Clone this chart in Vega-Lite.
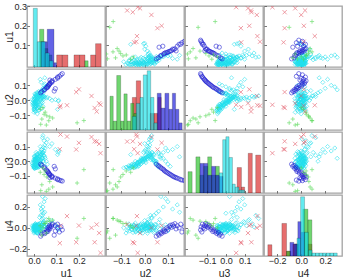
{
"$schema":"https://vega.github.io/schema/vega-lite/v6.json",
"background":"white",
"padding":{"left":3,"top":1,"right":0,"bottom":0},
"config":{
 "view":{"stroke":"#a3a3a3","strokeWidth":1.3},
 "axis":{"domain":false,"grid":false,"tickSize":-2.5,"tickColor":"#555555","tickWidth":0.8,"labelFont":"Liberation Sans","labelFontSize":9,"labelColor":"#262626","labelPadding":3,"titleFont":"Liberation Sans","titleFontSize":10.5,"titleFontWeight":"normal","titleColor":"#262626"}
},
"datasets":{
"pts":[
{"g":"c","u1":0.002,"u2":-0.055,"u3":-0.040,"u4":-0.020},
{"g":"c","u1":0.005,"u2":-0.048,"u3":-0.030,"u4":0.010},
{"g":"c","u1":0.000,"u2":-0.040,"u3":-0.035,"u4":-0.035},
{"g":"c","u1":0.008,"u2":-0.035,"u3":-0.020,"u4":0.005},
{"g":"c","u1":0.003,"u2":-0.030,"u3":-0.010,"u4":-0.015},
{"g":"c","u1":0.010,"u2":-0.025,"u3":-0.015,"u4":0.020},
{"g":"c","u1":0.006,"u2":-0.020,"u3":0.000,"u4":-0.040},
{"g":"c","u1":0.012,"u2":-0.015,"u3":0.005,"u4":0.000},
{"g":"c","u1":0.004,"u2":-0.010,"u3":0.010,"u4":-0.025},
{"g":"c","u1":0.015,"u2":-0.005,"u3":0.015,"u4":0.015},
{"g":"c","u1":0.008,"u2":0.000,"u3":0.020,"u4":-0.010},
{"g":"c","u1":0.018,"u2":0.005,"u3":0.025,"u4":0.030},
{"g":"c","u1":0.002,"u2":0.010,"u3":0.030,"u4":-0.005},
{"g":"c","u1":0.020,"u2":0.015,"u3":0.035,"u4":0.010},
{"g":"c","u1":0.011,"u2":0.020,"u3":0.040,"u4":-0.030},
{"g":"c","u1":0.025,"u2":0.025,"u3":0.030,"u4":0.005},
{"g":"c","u1":0.014,"u2":0.030,"u3":0.020,"u4":0.025},
{"g":"c","u1":0.030,"u2":0.035,"u3":0.010,"u4":-0.015},
{"g":"c","u1":0.007,"u2":0.040,"u3":0.000,"u4":0.000},
{"g":"c","u1":0.022,"u2":0.045,"u3":-0.010,"u4":0.035},
{"g":"c","u1":0.001,"u2":-0.060,"u3":-0.045,"u4":0.005},
{"g":"c","u1":0.016,"u2":-0.050,"u3":-0.025,"u4":-0.045},
{"g":"c","u1":0.009,"u2":-0.045,"u3":-0.045,"u4":0.025},
{"g":"c","u1":0.019,"u2":-0.038,"u3":-0.030,"u4":-0.010},
{"g":"c","u1":0.026,"u2":-0.028,"u3":-0.005,"u4":-0.020},
{"g":"c","u1":0.003,"u2":-0.018,"u3":-0.020,"u4":0.030},
{"g":"c","u1":0.013,"u2":-0.008,"u3":-0.005,"u4":-0.050},
{"g":"c","u1":0.028,"u2":0.002,"u3":0.000,"u4":0.015},
{"g":"c","u1":0.006,"u2":0.012,"u3":0.015,"u4":0.040},
{"g":"c","u1":0.017,"u2":0.022,"u3":0.050,"u4":-0.020},
{"g":"c","u1":0.033,"u2":0.028,"u3":0.045,"u4":0.000},
{"g":"c","u1":0.010,"u2":0.033,"u3":0.060,"u4":0.010},
{"g":"c","u1":0.024,"u2":-0.065,"u3":-0.035,"u4":-0.030},
{"g":"c","u1":0.035,"u2":-0.055,"u3":-0.020,"u4":0.020},
{"g":"c","u1":0.004,"u2":-0.070,"u3":-0.050,"u4":-0.005},
{"g":"c","u1":0.012,"u2":0.050,"u3":-0.020,"u4":-0.025},
{"g":"c","u1":0.029,"u2":0.055,"u3":-0.030,"u4":0.005},
{"g":"c","u1":0.038,"u2":-0.015,"u3":0.020,"u4":0.040},
{"g":"c","u1":-0.005,"u2":-0.025,"u3":-0.030,"u4":-0.010},
{"g":"c","u1":-0.008,"u2":0.005,"u3":-0.010,"u4":0.020},
{"g":"c","u1":0.000,"u2":-0.080,"u3":-0.040,"u4":-0.050},
{"g":"c","u1":0.015,"u2":-0.090,"u3":-0.045,"u4":0.000},
{"g":"c","u1":0.021,"u2":0.060,"u3":-0.040,"u4":-0.040},
{"g":"c","u1":0.032,"u2":0.010,"u3":0.065,"u4":-0.030},
{"g":"c","u1":0.040,"u2":-0.040,"u3":0.000,"u4":0.045},
{"g":"c","u1":0.001,"u2":-0.052,"u3":-0.038,"u4":0.012},
{"g":"c","u1":0.004,"u2":-0.043,"u3":-0.026,"u4":-0.022},
{"g":"c","u1":0.007,"u2":-0.033,"u3":-0.012,"u4":0.018},
{"g":"c","u1":0.002,"u2":-0.027,"u3":-0.022,"u4":-0.030},
{"g":"c","u1":0.009,"u2":-0.022,"u3":-0.006,"u4":0.008},
{"g":"c","u1":0.005,"u2":-0.012,"u3":0.004,"u4":-0.018},
{"g":"c","u1":0.011,"u2":-0.003,"u3":0.012,"u4":0.026},
{"g":"c","u1":0.003,"u2":0.004,"u3":0.018,"u4":-0.008},
{"g":"c","u1":0.013,"u2":0.008,"u3":0.027,"u4":0.002},
{"g":"c","u1":0.006,"u2":0.016,"u3":0.033,"u4":0.019},
{"g":"c","u1":0.016,"u2":0.024,"u3":0.042,"u4":-0.012},
{"g":"c","u1":0.009,"u2":0.029,"u3":0.025,"u4":0.032},
{"g":"c","u1":0.021,"u2":0.037,"u3":0.012,"u4":-0.026},
{"g":"c","u1":0.004,"u2":0.043,"u3":0.004,"u4":0.011},
{"g":"c","u1":0.018,"u2":0.051,"u3":-0.014,"u4":-0.004},
{"g":"c","u1":-0.003,"u2":-0.035,"u3":-0.028,"u4":0.004},
{"g":"c","u1":-0.006,"u2":-0.015,"u3":-0.017,"u4":-0.020},
{"g":"c","u1":-0.002,"u2":0.000,"u3":0.008,"u4":0.012},
{"g":"c","u1":0.014,"u2":-0.058,"u3":-0.032,"u4":-0.012},
{"g":"c","u1":0.023,"u2":-0.046,"u3":-0.018,"u4":0.030},
{"g":"c","u1":0.027,"u2":-0.033,"u3":-0.010,"u4":0.014},
{"g":"c","u1":0.031,"u2":-0.020,"u3":0.006,"u4":-0.034},
{"g":"c","u1":0.034,"u2":-0.006,"u3":0.022,"u4":0.022},
{"g":"c","u1":0.027,"u2":0.012,"u3":0.052,"u4":0.045},
{"g":"c","u1":0.037,"u2":0.020,"u3":0.058,"u4":0.005},
{"g":"c","u1":0.041,"u2":0.005,"u3":0.040,"u4":-0.015},
{"g":"c","u1":0.001,"u2":-0.065,"u3":-0.048,"u4":0.018},
{"g":"c","u1":0.008,"u2":-0.074,"u3":-0.042,"u4":-0.024},
{"g":"c","u1":0.019,"u2":-0.068,"u3":-0.030,"u4":0.038},
{"g":"c","u1":0.012,"u2":0.039,"u3":0.048,"u4":-0.045},
{"g":"c","u1":0.024,"u2":0.047,"u3":0.000,"u4":0.025},
{"g":"c","u1":0.002,"u2":0.022,"u3":0.036,"u4":0.003},
{"g":"c","u1":0.007,"u2":-0.006,"u3":0.000,"u4":0.036},
{"g":"c","u1":0.010,"u2":-0.038,"u3":-0.040,"u4":-0.040},
{"g":"c","u1":0.015,"u2":0.012,"u3":0.020,"u4":-0.052},
{"g":"c","u1":0.020,"u2":-0.012,"u3":0.015,"u4":0.000},
{"g":"c","u1":0.025,"u2":0.032,"u3":0.035,"u4":0.018},
{"g":"c","u1":0.000,"u2":-0.020,"u3":-0.005,"u4":0.022},
{"g":"c","u1":0.005,"u2":0.027,"u3":0.010,"u4":-0.018},
{"g":"c","u1":0.017,"u2":-0.028,"u3":-0.036,"u4":0.008},
{"g":"c","u1":0.035,"u2":0.015,"u3":0.080,"u4":0.030},
{"g":"c","u1":0.042,"u2":0.018,"u3":0.095,"u4":0.060},
{"g":"c","u1":0.048,"u2":0.022,"u3":0.110,"u4":0.020},
{"g":"c","u1":0.055,"u2":0.015,"u3":0.125,"u4":0.080},
{"g":"c","u1":0.045,"u2":0.028,"u3":0.140,"u4":0.040},
{"g":"c","u1":0.060,"u2":0.020,"u3":0.150,"u4":0.010},
{"g":"c","u1":0.070,"u2":0.012,"u3":0.100,"u4":0.050},
{"g":"c","u1":0.080,"u2":0.000,"u3":0.120,"u4":0.070},
{"g":"c","u1":0.095,"u2":0.005,"u3":0.080,"u4":0.030},
{"g":"c","u1":0.108,"u2":-0.005,"u3":0.060,"u4":-0.020},
{"g":"c","u1":0.110,"u2":0.000,"u3":0.070,"u4":0.000},
{"g":"c","u1":0.105,"u2":-0.060,"u3":0.045,"u4":0.010},
{"g":"c","u1":0.040,"u2":0.030,"u3":0.175,"u4":0.090},
{"g":"c","u1":0.038,"u2":0.025,"u3":0.160,"u4":0.120},
{"g":"c","u1":0.040,"u2":0.060,"u3":0.060,"u4":0.050},
{"g":"c","u1":0.045,"u2":0.070,"u3":0.040,"u4":0.020},
{"g":"c","u1":0.050,"u2":0.080,"u3":0.020,"u4":-0.010},
{"g":"c","u1":0.055,"u2":0.090,"u3":0.000,"u4":0.030},
{"g":"c","u1":0.060,"u2":0.100,"u3":-0.020,"u4":-0.030},
{"g":"c","u1":0.048,"u2":0.110,"u3":-0.035,"u4":0.010},
{"g":"c","u1":0.035,"u2":0.065,"u3":0.030,"u4":0.080},
{"g":"c","u1":0.030,"u2":0.040,"u3":0.040,"u4":0.120},
{"g":"c","u1":0.035,"u2":0.060,"u3":0.050,"u4":0.160},
{"g":"c","u1":0.040,"u2":0.080,"u3":0.060,"u4":0.200},
{"g":"c","u1":0.045,"u2":0.100,"u3":0.070,"u4":0.250},
{"g":"c","u1":0.032,"u2":0.120,"u3":0.080,"u4":0.180},
{"g":"c","u1":0.050,"u2":0.090,"u3":0.090,"u4":0.280},
{"g":"c","u1":0.028,"u2":0.140,"u3":0.100,"u4":0.220},
{"g":"c","u1":0.038,"u2":0.070,"u3":0.020,"u4":0.300},
{"g":"c","u1":0.042,"u2":0.050,"u3":0.000,"u4":0.140},
{"g":"c","u1":0.025,"u2":0.030,"u3":0.060,"u4":0.100},
{"g":"c","u1":0.048,"u2":0.150,"u3":0.030,"u4":0.150},
{"g":"b","u1":0.030,"u2":0.050,"u3":-0.020,"u4":-0.080},
{"g":"b","u1":0.035,"u2":0.058,"u3":-0.028,"u4":-0.060},
{"g":"b","u1":0.090,"u2":0.062,"u3":-0.035,"u4":-0.070},
{"g":"b","u1":0.045,"u2":0.068,"u3":-0.040,"u4":-0.045},
{"g":"b","u1":0.048,"u2":0.072,"u3":-0.048,"u4":-0.055},
{"g":"b","u1":0.095,"u2":0.078,"u3":-0.052,"u4":-0.030},
{"g":"b","u1":0.055,"u2":0.082,"u3":-0.058,"u4":-0.040},
{"g":"b","u1":0.058,"u2":0.085,"u3":-0.065,"u4":-0.020},
{"g":"b","u1":0.062,"u2":0.090,"u3":-0.070,"u4":-0.035},
{"g":"b","u1":0.062,"u2":0.095,"u3":-0.075,"u4":0.000},
{"g":"b","u1":0.065,"u2":0.100,"u3":-0.080,"u4":-0.015},
{"g":"b","u1":0.068,"u2":0.105,"u3":-0.085,"u4":0.010},
{"g":"b","u1":0.070,"u2":0.110,"u3":-0.090,"u4":0.025},
{"g":"b","u1":0.072,"u2":0.115,"u3":-0.095,"u4":0.005},
{"g":"b","u1":0.080,"u2":0.120,"u3":-0.100,"u4":0.030},
{"g":"b","u1":0.078,"u2":0.125,"u3":-0.105,"u4":0.015},
{"g":"b","u1":0.082,"u2":0.130,"u3":-0.108,"u4":0.040},
{"g":"b","u1":0.071,"u2":0.135,"u3":-0.112,"u4":-0.010},
{"g":"b","u1":0.095,"u2":0.140,"u3":-0.115,"u4":0.020},
{"g":"b","u1":0.105,"u2":0.148,"u3":-0.120,"u4":0.000},
{"g":"b","u1":0.105,"u2":0.155,"u3":-0.125,"u4":0.035},
{"g":"b","u1":0.113,"u2":0.160,"u3":-0.128,"u4":-0.040},
{"g":"b","u1":0.120,"u2":0.170,"u3":-0.132,"u4":0.010},
{"g":"b","u1":0.126,"u2":0.178,"u3":-0.135,"u4":-0.020},
{"g":"g","u1":0.222,"u2":-0.135,"u3":-0.057,"u4":0.090},
{"g":"g","u1":0.192,"u2":-0.150,"u3":-0.148,"u4":-0.100},
{"g":"g","u1":0.066,"u2":-0.136,"u3":-0.190,"u4":0.090},
{"g":"g","u1":0.083,"u2":-0.118,"u3":-0.175,"u4":0.074},
{"g":"g","u1":0.070,"u2":-0.110,"u3":-0.138,"u4":0.064},
{"g":"g","u1":0.057,"u2":-0.103,"u3":-0.107,"u4":0.060},
{"g":"g","u1":0.045,"u2":-0.093,"u3":-0.090,"u4":0.041},
{"g":"g","u1":0.050,"u2":-0.079,"u3":-0.066,"u4":0.041},
{"g":"g","u1":0.040,"u2":-0.049,"u3":-0.046,"u4":0.000},
{"g":"g","u1":0.030,"u2":-0.160,"u3":-0.200,"u4":-0.030},
{"g":"g","u1":0.035,"u2":-0.125,"u3":-0.160,"u4":-0.070},
{"g":"g","u1":0.028,"u2":-0.060,"u3":-0.075,"u4":0.020},
{"g":"g","u1":0.055,"u2":-0.165,"u3":-0.205,"u4":-0.050},
{"g":"r","u1":0.118,"u2":-0.036,"u3":0.182,"u4":0.020},
{"g":"r","u1":0.115,"u2":-0.045,"u3":0.082,"u4":-0.147},
{"g":"r","u1":0.147,"u2":-0.033,"u3":0.168,"u4":0.113},
{"g":"r","u1":0.188,"u2":0.055,"u3":0.080,"u4":-0.138},
{"g":"r","u1":0.200,"u2":0.073,"u3":0.125,"u4":0.022},
{"g":"r","u1":0.256,"u2":0.029,"u3":0.165,"u4":0.000},
{"g":"r","u1":0.270,"u2":-0.051,"u3":0.136,"u4":-0.138},
{"g":"r","u1":0.279,"u2":-0.075,"u3":0.134,"u4":0.032},
{"g":"r","u1":0.296,"u2":-0.030,"u3":0.055,"u4":-0.240},
{"g":"r","u1":0.290,"u2":-0.020,"u3":0.118,"u4":-0.050}
],
"hist":[
{"v":"u1","g":"r","x0":0.101,"x1":0.126,"h":0.05},
{"v":"u1","g":"r","x0":0.126,"x1":0.151,"h":0.05},
{"v":"u1","g":"r","x0":0.178,"x1":0.203,"h":0.05},
{"v":"u1","g":"r","x0":0.203,"x1":0.227,"h":0.05},
{"v":"u1","g":"r","x0":0.252,"x1":0.274,"h":0.05},
{"v":"u1","g":"r","x0":0.274,"x1":0.299,"h":0.108},
{"v":"u1","g":"g","x0":0.025,"x1":0.044,"h":0.182},
{"v":"u1","g":"g","x0":0.044,"x1":0.062,"h":0.083},
{"v":"u1","g":"g","x0":0.062,"x1":0.08,"h":0.05},
{"v":"u1","g":"g","x0":0.226,"x1":0.241,"h":0.02},
{"v":"u1","g":"b","x0":0.032,"x1":0.059,"h":0.118},
{"v":"u1","g":"b","x0":0.059,"x1":0.089,"h":0.182},
{"v":"u1","g":"b","x0":0.089,"x1":0.1,"h":0.01},
{"v":"u1","g":"c","x0":-0.003,"x1":0.015,"h":0.29},
{"v":"u1","g":"c","x0":0.015,"x1":0.032,"h":0.118},
{"v":"u1","g":"c","x0":0.032,"x1":0.05,"h":0.118},
{"v":"u1","g":"c","x0":0.05,"x1":0.068,"h":0.06},
{"v":"u1","g":"c","x0":0.068,"x1":0.085,"h":0.02},
{"v":"u2","g":"r","x0":-0.053,"x1":-0.036,"h":0.55},
{"v":"u2","g":"r","x0":-0.036,"x1":-0.017,"h":0.83},
{"v":"u2","g":"r","x0":0.023,"x1":0.04,"h":0.28},
{"v":"u2","g":"r","x0":0.04,"x1":0.057,"h":0.28},
{"v":"u2","g":"r","x0":0.057,"x1":0.071,"h":0.55},
{"v":"u2","g":"g","x0":-0.149,"x1":-0.135,"h":0.57},
{"v":"u2","g":"g","x0":-0.135,"x1":-0.12,"h":0.15},
{"v":"u2","g":"g","x0":-0.12,"x1":-0.103,"h":0.92},
{"v":"u2","g":"g","x0":-0.103,"x1":-0.089,"h":0.15},
{"v":"u2","g":"g","x0":-0.089,"x1":-0.075,"h":0.61},
{"v":"u2","g":"g","x0":-0.075,"x1":-0.06,"h":0.15},
{"v":"u2","g":"g","x0":-0.06,"x1":-0.046,"h":0.45},
{"v":"u2","g":"g","x0":-0.046,"x1":-0.034,"h":0.28},
{"v":"u2","g":"b","x0":0.054,"x1":0.071,"h":0.62},
{"v":"u2","g":"b","x0":0.071,"x1":0.087,"h":0.37},
{"v":"u2","g":"b","x0":0.087,"x1":0.104,"h":0.62},
{"v":"u2","g":"b","x0":0.104,"x1":0.119,"h":0.35},
{"v":"u2","g":"b","x0":0.119,"x1":0.133,"h":0.62},
{"v":"u2","g":"b","x0":0.133,"x1":0.147,"h":0.35},
{"v":"u2","g":"b","x0":0.147,"x1":0.161,"h":0.12},
{"v":"u2","g":"c","x0":-0.053,"x1":-0.036,"h":0.23},
{"v":"u2","g":"c","x0":-0.036,"x1":-0.02,"h":0.45},
{"v":"u2","g":"c","x0":-0.02,"x1":-0.006,"h":0.55},
{"v":"u2","g":"c","x0":-0.006,"x1":0.011,"h":0.93},
{"v":"u2","g":"c","x0":0.011,"x1":0.026,"h":1.0},
{"v":"u2","g":"c","x0":0.026,"x1":0.04,"h":0.55},
{"v":"u2","g":"c","x0":0.04,"x1":0.054,"h":0.12},
{"v":"u3","g":"r","x0":0.06,"x1":0.083,"h":0.43},
{"v":"u3","g":"r","x0":0.083,"x1":0.1,"h":0.1},
{"v":"u3","g":"r","x0":0.119,"x1":0.141,"h":0.67},
{"v":"u3","g":"r","x0":0.159,"x1":0.186,"h":0.64},
{"v":"u3","g":"g","x0":-0.202,"x1":-0.18,"h":0.36},
{"v":"u3","g":"g","x0":-0.16,"x1":-0.138,"h":0.61},
{"v":"u3","g":"g","x0":-0.138,"x1":-0.118,"h":0.3},
{"v":"u3","g":"g","x0":-0.118,"x1":-0.097,"h":0.45},
{"v":"u3","g":"g","x0":-0.097,"x1":-0.076,"h":0.61},
{"v":"u3","g":"g","x0":-0.076,"x1":-0.055,"h":0.3},
{"v":"u3","g":"g","x0":-0.055,"x1":-0.035,"h":0.45},
{"v":"u3","g":"b","x0":-0.138,"x1":-0.118,"h":0.5},
{"v":"u3","g":"b","x0":-0.118,"x1":-0.097,"h":0.5},
{"v":"u3","g":"b","x0":-0.097,"x1":-0.076,"h":0.3},
{"v":"u3","g":"b","x0":-0.076,"x1":-0.055,"h":0.45},
{"v":"u3","g":"b","x0":-0.055,"x1":-0.035,"h":0.3},
{"v":"u3","g":"b","x0":-0.035,"x1":-0.015,"h":0.28},
{"v":"u3","g":"c","x0":-0.035,"x1":-0.017,"h":0.34},
{"v":"u3","g":"c","x0":-0.017,"x1":0.0,"h":0.9},
{"v":"u3","g":"c","x0":0.0,"x1":0.017,"h":0.95},
{"v":"u3","g":"c","x0":0.017,"x1":0.035,"h":0.6},
{"v":"u3","g":"c","x0":0.035,"x1":0.05,"h":0.15},
{"v":"u3","g":"c","x0":0.05,"x1":0.07,"h":0.1},
{"v":"u3","g":"c","x0":0.07,"x1":0.1,"h":0.05},
{"v":"u4","g":"r","x0":-0.278,"x1":-0.244,"h":0.19},
{"v":"u4","g":"r","x0":-0.161,"x1":-0.122,"h":0.55},
{"v":"u4","g":"r","x0":-0.122,"x1":-0.088,"h":0.08},
{"v":"u4","g":"r","x0":-0.07,"x1":-0.035,"h":0.2},
{"v":"u4","g":"r","x0":0.056,"x1":0.089,"h":0.2},
{"v":"u4","g":"g","x0":-0.122,"x1":-0.088,"h":0.08},
{"v":"u4","g":"g","x0":-0.05,"x1":-0.02,"h":0.2},
{"v":"u4","g":"g","x0":0.014,"x1":0.056,"h":0.79},
{"v":"u4","g":"g","x0":0.056,"x1":0.089,"h":0.61},
{"v":"u4","g":"b","x0":-0.094,"x1":-0.061,"h":0.23},
{"v":"u4","g":"b","x0":-0.061,"x1":-0.028,"h":0.2},
{"v":"u4","g":"b","x0":-0.028,"x1":0.0,"h":0.58},
{"v":"u4","g":"b","x0":0.0,"x1":0.028,"h":0.4},
{"v":"u4","g":"c","x0":-0.035,"x1":-0.005,"h":0.3},
{"v":"u4","g":"c","x0":-0.005,"x1":0.028,"h":1.0},
{"v":"u4","g":"c","x0":0.028,"x1":0.06,"h":0.4},
{"v":"u4","g":"c","x0":0.06,"x1":0.09,"h":0.1},
{"v":"u4","g":"c","x0":0.09,"x1":0.12,"h":0.05},
{"v":"u4","g":"c","x0":0.12,"x1":0.15,"h":0.05},
{"v":"u4","g":"c","x0":0.15,"x1":0.18,"h":0.05},
{"v":"u4","g":"c","x0":0.18,"x1":0.21,"h":0.05},
{"v":"u4","g":"c","x0":0.21,"x1":0.24,"h":0.05},
{"v":"u4","g":"c","x0":0.24,"x1":0.27,"h":0.05},
{"v":"u4","g":"c","x0":0.27,"x1":0.3,"h":0.05}
]
},
"columns":4,
"spacing":{"row":2,"column":1},
"bounds":"flush",
"concat":[
 {"width":78,"height":61,"data":{"name":"hist"},"transform":[{"filter":"datum.v=='u1'"}],
  "mark":{"type":"bar","fillOpacity":0.65,"stroke":"#000000","strokeOpacity":0.4,"strokeWidth":0.5,"clip":true},
  "encoding":{"x":{"field":"x0","type":"quantitative","scale":{"domain":[-0.031,0.316],"nice":false,"zero":false},"axis":{"values":[0,0.1,0.2],"labels":false,"title":null}},"x2":{"field":"x1"},
   "y":{"field":"h","type":"quantitative","scale":{"domain":[-0.012,0.302],"nice":false,"zero":false},"axis":{"values":[0.1,0.2,0.3],"title":"u1","titleX":-18,"titleBaseline":"middle"}},"y2":{"datum":-0.012},
   "fill":{"field":"g","type":"nominal","scale":{"domain":["r","g","b","c"],"range":["#d92020","#22c022","#1010d8","#10e0e8"]},"legend":null}}},
 {"width":78,"height":61,"data":{"name":"pts"},"mark":{"type":"point","filled":false,"clip":true,"size":18,"strokeWidth":0.8},
  "encoding":{"x":{"field":"u2","type":"quantitative","scale":{"domain":[-0.166,0.169],"nice":false,"zero":false},"axis":{"values":[-0.1,0,0.1],"labels":false,"title":null}},
   "y":{"field":"u1","type":"quantitative","scale":{"domain":[-0.012,0.302],"nice":false,"zero":false},"axis":{"values":[0.1,0.2,0.3],"labels":false,"title":null}},
   "color":{"field":"g","type":"nominal","scale":{"domain":["r","g","b","c"],"range":["#e25060","#4fd84f","#1a1ad0","#20e0ee"]},"legend":null},
   "shape":{"field":"g","type":"nominal","scale":{"domain":["r","g","b","c"],"range":["M-1,-1L1,1M-1,1L1,-1","M-1,0L1,0M0,-1L0,1","circle","diamond"]},"legend":null}}},
 {"width":78,"height":61,"data":{"name":"pts"},"mark":{"type":"point","filled":false,"clip":true,"size":18,"strokeWidth":0.8},
  "encoding":{"x":{"field":"u3","type":"quantitative","scale":{"domain":[-0.218,0.198],"nice":false,"zero":false},"axis":{"values":[-0.1,0,0.1],"labels":false,"title":null}},
   "y":{"field":"u1","type":"quantitative","scale":{"domain":[-0.012,0.302],"nice":false,"zero":false},"axis":{"values":[0.1,0.2,0.3],"labels":false,"title":null}},
   "color":{"field":"g","type":"nominal","scale":{"domain":["r","g","b","c"],"range":["#e25060","#4fd84f","#1a1ad0","#20e0ee"]},"legend":null},
   "shape":{"field":"g","type":"nominal","scale":{"domain":["r","g","b","c"],"range":["M-1,-1L1,1M-1,1L1,-1","M-1,0L1,0M0,-1L0,1","circle","diamond"]},"legend":null}}},
 {"width":78,"height":61,"data":{"name":"pts"},"mark":{"type":"point","filled":false,"clip":true,"size":18,"strokeWidth":0.8},
  "encoding":{"x":{"field":"u4","type":"quantitative","scale":{"domain":[-0.31,0.34],"nice":false,"zero":false},"axis":{"values":[-0.2,0,0.2],"labels":false,"title":null}},
   "y":{"field":"u1","type":"quantitative","scale":{"domain":[-0.012,0.302],"nice":false,"zero":false},"axis":{"values":[0.1,0.2,0.3],"labels":false,"title":null}},
   "color":{"field":"g","type":"nominal","scale":{"domain":["r","g","b","c"],"range":["#e25060","#4fd84f","#1a1ad0","#20e0ee"]},"legend":null},
   "shape":{"field":"g","type":"nominal","scale":{"domain":["r","g","b","c"],"range":["M-1,-1L1,1M-1,1L1,-1","M-1,0L1,0M0,-1L0,1","circle","diamond"]},"legend":null}}},
 {"width":78,"height":61,"data":{"name":"pts"},"mark":{"type":"point","filled":false,"clip":true,"size":18,"strokeWidth":0.8},
  "encoding":{"x":{"field":"u1","type":"quantitative","scale":{"domain":[-0.031,0.316],"nice":false,"zero":false},"axis":{"values":[0,0.1,0.2],"labels":false,"title":null}},
   "y":{"field":"u2","type":"quantitative","scale":{"domain":[-0.198,0.209],"nice":false,"zero":false},"axis":{"values":[-0.1,0,0.1],"title":"u2","titleX":-18,"titleBaseline":"middle"}},
   "color":{"field":"g","type":"nominal","scale":{"domain":["r","g","b","c"],"range":["#e25060","#4fd84f","#1a1ad0","#20e0ee"]},"legend":null},
   "shape":{"field":"g","type":"nominal","scale":{"domain":["r","g","b","c"],"range":["M-1,-1L1,1M-1,1L1,-1","M-1,0L1,0M0,-1L0,1","circle","diamond"]},"legend":null}}},
 {"width":78,"height":61,"data":{"name":"hist"},"transform":[{"filter":"datum.v=='u2'"}],
  "mark":{"type":"bar","fillOpacity":0.65,"stroke":"#000000","strokeOpacity":0.4,"strokeWidth":0.5,"clip":true},
  "encoding":{"x":{"field":"x0","type":"quantitative","scale":{"domain":[-0.166,0.169],"nice":false,"zero":false},"axis":{"values":[-0.1,0,0.1],"labels":false,"title":null}},"x2":{"field":"x1"},
   "y":{"field":"h","type":"quantitative","scale":{"domain":[0,1.03],"nice":false},"axis":null},"y2":{"datum":0},
   "fill":{"field":"g","type":"nominal","scale":{"domain":["r","g","b","c"],"range":["#d92020","#22c022","#1010d8","#10e0e8"]},"legend":null}}},
 {"width":78,"height":61,"data":{"name":"pts"},"mark":{"type":"point","filled":false,"clip":true,"size":18,"strokeWidth":0.8},
  "encoding":{"x":{"field":"u3","type":"quantitative","scale":{"domain":[-0.218,0.198],"nice":false,"zero":false},"axis":{"values":[-0.1,0,0.1],"labels":false,"title":null}},
   "y":{"field":"u2","type":"quantitative","scale":{"domain":[-0.198,0.209],"nice":false,"zero":false},"axis":{"values":[-0.1,0,0.1],"labels":false,"title":null}},
   "color":{"field":"g","type":"nominal","scale":{"domain":["r","g","b","c"],"range":["#e25060","#4fd84f","#1a1ad0","#20e0ee"]},"legend":null},
   "shape":{"field":"g","type":"nominal","scale":{"domain":["r","g","b","c"],"range":["M-1,-1L1,1M-1,1L1,-1","M-1,0L1,0M0,-1L0,1","circle","diamond"]},"legend":null}}},
 {"width":78,"height":61,"data":{"name":"pts"},"mark":{"type":"point","filled":false,"clip":true,"size":18,"strokeWidth":0.8},
  "encoding":{"x":{"field":"u4","type":"quantitative","scale":{"domain":[-0.31,0.34],"nice":false,"zero":false},"axis":{"values":[-0.2,0,0.2],"labels":false,"title":null}},
   "y":{"field":"u2","type":"quantitative","scale":{"domain":[-0.198,0.209],"nice":false,"zero":false},"axis":{"values":[-0.1,0,0.1],"labels":false,"title":null}},
   "color":{"field":"g","type":"nominal","scale":{"domain":["r","g","b","c"],"range":["#e25060","#4fd84f","#1a1ad0","#20e0ee"]},"legend":null},
   "shape":{"field":"g","type":"nominal","scale":{"domain":["r","g","b","c"],"range":["M-1,-1L1,1M-1,1L1,-1","M-1,0L1,0M0,-1L0,1","circle","diamond"]},"legend":null}}},
 {"width":78,"height":61,"data":{"name":"pts"},"mark":{"type":"point","filled":false,"clip":true,"size":18,"strokeWidth":0.8},
  "encoding":{"x":{"field":"u1","type":"quantitative","scale":{"domain":[-0.031,0.316],"nice":false,"zero":false},"axis":{"values":[0,0.1,0.2],"labels":false,"title":null}},
   "y":{"field":"u3","type":"quantitative","scale":{"domain":[-0.216,0.199],"nice":false,"zero":false},"axis":{"values":[-0.1,0,0.1],"title":"u3","titleX":-18,"titleBaseline":"middle"}},
   "color":{"field":"g","type":"nominal","scale":{"domain":["r","g","b","c"],"range":["#e25060","#4fd84f","#1a1ad0","#20e0ee"]},"legend":null},
   "shape":{"field":"g","type":"nominal","scale":{"domain":["r","g","b","c"],"range":["M-1,-1L1,1M-1,1L1,-1","M-1,0L1,0M0,-1L0,1","circle","diamond"]},"legend":null}}},
 {"width":78,"height":61,"data":{"name":"pts"},"mark":{"type":"point","filled":false,"clip":true,"size":18,"strokeWidth":0.8},
  "encoding":{"x":{"field":"u2","type":"quantitative","scale":{"domain":[-0.166,0.169],"nice":false,"zero":false},"axis":{"values":[-0.1,0,0.1],"labels":false,"title":null}},
   "y":{"field":"u3","type":"quantitative","scale":{"domain":[-0.216,0.199],"nice":false,"zero":false},"axis":{"values":[-0.1,0,0.1],"labels":false,"title":null}},
   "color":{"field":"g","type":"nominal","scale":{"domain":["r","g","b","c"],"range":["#e25060","#4fd84f","#1a1ad0","#20e0ee"]},"legend":null},
   "shape":{"field":"g","type":"nominal","scale":{"domain":["r","g","b","c"],"range":["M-1,-1L1,1M-1,1L1,-1","M-1,0L1,0M0,-1L0,1","circle","diamond"]},"legend":null}}},
 {"width":78,"height":61,"data":{"name":"hist"},"transform":[{"filter":"datum.v=='u3'"}],
  "mark":{"type":"bar","fillOpacity":0.65,"stroke":"#000000","strokeOpacity":0.4,"strokeWidth":0.5,"clip":true},
  "encoding":{"x":{"field":"x0","type":"quantitative","scale":{"domain":[-0.218,0.198],"nice":false,"zero":false},"axis":{"values":[-0.1,0,0.1],"labels":false,"title":null}},"x2":{"field":"x1"},
   "y":{"field":"h","type":"quantitative","scale":{"domain":[0,1.03],"nice":false},"axis":null},"y2":{"datum":0},
   "fill":{"field":"g","type":"nominal","scale":{"domain":["r","g","b","c"],"range":["#d92020","#22c022","#1010d8","#10e0e8"]},"legend":null}}},
 {"width":78,"height":61,"data":{"name":"pts"},"mark":{"type":"point","filled":false,"clip":true,"size":18,"strokeWidth":0.8},
  "encoding":{"x":{"field":"u4","type":"quantitative","scale":{"domain":[-0.31,0.34],"nice":false,"zero":false},"axis":{"values":[-0.2,0,0.2],"labels":false,"title":null}},
   "y":{"field":"u3","type":"quantitative","scale":{"domain":[-0.216,0.199],"nice":false,"zero":false},"axis":{"values":[-0.1,0,0.1],"labels":false,"title":null}},
   "color":{"field":"g","type":"nominal","scale":{"domain":["r","g","b","c"],"range":["#e25060","#4fd84f","#1a1ad0","#20e0ee"]},"legend":null},
   "shape":{"field":"g","type":"nominal","scale":{"domain":["r","g","b","c"],"range":["M-1,-1L1,1M-1,1L1,-1","M-1,0L1,0M0,-1L0,1","circle","diamond"]},"legend":null}}},
 {"width":78,"height":61,"data":{"name":"pts"},"mark":{"type":"point","filled":false,"clip":true,"size":18,"strokeWidth":0.8},
  "encoding":{"x":{"field":"u1","type":"quantitative","scale":{"domain":[-0.031,0.316],"nice":false,"zero":false},"axis":{"values":[0,0.1,0.2],"title":"u1","titleY":20,"titleBaseline":"alphabetic"}},
   "y":{"field":"u4","type":"quantitative","scale":{"domain":[-0.27,0.315],"nice":false,"zero":false},"axis":{"values":[-0.2,0,0.2],"title":"u4","titleX":-18,"titleBaseline":"middle"}},
   "color":{"field":"g","type":"nominal","scale":{"domain":["r","g","b","c"],"range":["#e25060","#4fd84f","#1a1ad0","#20e0ee"]},"legend":null},
   "shape":{"field":"g","type":"nominal","scale":{"domain":["r","g","b","c"],"range":["M-1,-1L1,1M-1,1L1,-1","M-1,0L1,0M0,-1L0,1","circle","diamond"]},"legend":null}}},
 {"width":78,"height":61,"data":{"name":"pts"},"mark":{"type":"point","filled":false,"clip":true,"size":18,"strokeWidth":0.8},
  "encoding":{"x":{"field":"u2","type":"quantitative","scale":{"domain":[-0.166,0.169],"nice":false,"zero":false},"axis":{"values":[-0.1,0,0.1],"title":"u2","titleY":20,"titleBaseline":"alphabetic"}},
   "y":{"field":"u4","type":"quantitative","scale":{"domain":[-0.27,0.315],"nice":false,"zero":false},"axis":{"values":[-0.2,0,0.2],"labels":false,"title":null}},
   "color":{"field":"g","type":"nominal","scale":{"domain":["r","g","b","c"],"range":["#e25060","#4fd84f","#1a1ad0","#20e0ee"]},"legend":null},
   "shape":{"field":"g","type":"nominal","scale":{"domain":["r","g","b","c"],"range":["M-1,-1L1,1M-1,1L1,-1","M-1,0L1,0M0,-1L0,1","circle","diamond"]},"legend":null}}},
 {"width":78,"height":61,"data":{"name":"pts"},"mark":{"type":"point","filled":false,"clip":true,"size":18,"strokeWidth":0.8},
  "encoding":{"x":{"field":"u3","type":"quantitative","scale":{"domain":[-0.218,0.198],"nice":false,"zero":false},"axis":{"values":[-0.1,0,0.1],"title":"u3","titleY":20,"titleBaseline":"alphabetic"}},
   "y":{"field":"u4","type":"quantitative","scale":{"domain":[-0.27,0.315],"nice":false,"zero":false},"axis":{"values":[-0.2,0,0.2],"labels":false,"title":null}},
   "color":{"field":"g","type":"nominal","scale":{"domain":["r","g","b","c"],"range":["#e25060","#4fd84f","#1a1ad0","#20e0ee"]},"legend":null},
   "shape":{"field":"g","type":"nominal","scale":{"domain":["r","g","b","c"],"range":["M-1,-1L1,1M-1,1L1,-1","M-1,0L1,0M0,-1L0,1","circle","diamond"]},"legend":null}}},
 {"width":78,"height":61,"data":{"name":"hist"},"transform":[{"filter":"datum.v=='u4'"}],
  "mark":{"type":"bar","fillOpacity":0.65,"stroke":"#000000","strokeOpacity":0.4,"strokeWidth":0.5,"clip":true},
  "encoding":{"x":{"field":"x0","type":"quantitative","scale":{"domain":[-0.31,0.34],"nice":false,"zero":false},"axis":{"values":[-0.2,0,0.2],"title":"u4","titleY":20,"titleBaseline":"alphabetic"}},"x2":{"field":"x1"},
   "y":{"field":"h","type":"quantitative","scale":{"domain":[0,1.03],"nice":false},"axis":null},"y2":{"datum":0},
   "fill":{"field":"g","type":"nominal","scale":{"domain":["r","g","b","c"],"range":["#d92020","#22c022","#1010d8","#10e0e8"]},"legend":null}}}
]
}
